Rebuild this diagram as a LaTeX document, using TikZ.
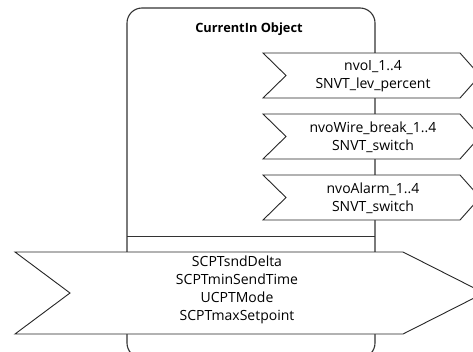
\documentclass[tikz,border=0pt]{standalone}
\usepackage{fontspec}
\setmainfont{Open Sans}
\usetikzlibrary{calc}
\begin{document}
\begin{tikzpicture}[x=1pt,y=-1pt,
  objbox/.style={draw=black!80, line width=1.1pt, rounded corners=15pt,
    minimum width=248pt, minimum height=350pt, inner sep=0pt},
  title/.style={font=\fontsize{12.8}{15}\selectfont\bfseries, inner sep=0pt},
  porttext/.style={font=\fontsize{14}{18}\selectfont, align=center, inner sep=0pt},
  outline/.style={draw=black!85, line width=0.9pt, fill=white, line join=miter},
]
\useasboundingbox (0,0) rectangle (473,351);
\begin{scope}
\clip (0,0) rectangle (473,351);

% object frame with its title and divider
\node[objbox] (obj) at (251,183) {};
\node[title] (ttl) at (249,29) {CurrentIn Object};
\coordinate (divl) at (127,236);
\coordinate (divr) at (375,236);
\draw[draw=black!80, line width=1pt] (divl) -- (divr);

% output network variables
\foreach \nm/\cy/\txt in {nvoi/75.5/{nvoI\_1..4\\SNVT\_lev\_percent},
                          nvowire/136.5/{nvoWire\_break\_1..4\\SNVT\_switch},
                          nvoalarm/197.5/{nvoAlarm\_1..4\\SNVT\_switch}}{
  \coordinate (\nm) at (373,\cy);
  \draw[outline] ($(\nm)+(-110,-22.5)$) -- ($(\nm)+(87,-22.5)$)
    -- ($(\nm)+(107,0)$) -- ($(\nm)+(87,22.5)$) -- ($(\nm)+(-110,22.5)$)
    -- ($(\nm)+(-87,0)$) -- cycle;
  \node[porttext] (\nm-t) at ($(\nm)+(0,0.5)$) {\txt};
}

% configuration properties
\coordinate (cfg) at (237,293);
\draw[outline] ($(cfg)+(-222,-41)$) -- ($(cfg)+(166,-41)$)
  -- ($(cfg)+(247,0)$) -- ($(cfg)+(166,41)$) -- ($(cfg)+(-222,41)$)
  -- ($(cfg)+(-167,0)$) -- cycle;
\node[porttext] (cfg-t) at ($(cfg)+(0,-3)$)
  {SCPTsndDelta\\SCPTminSendTime\\UCPTMode\\SCPTmaxSetpoint};
\end{scope}
\end{tikzpicture}
\end{document}
